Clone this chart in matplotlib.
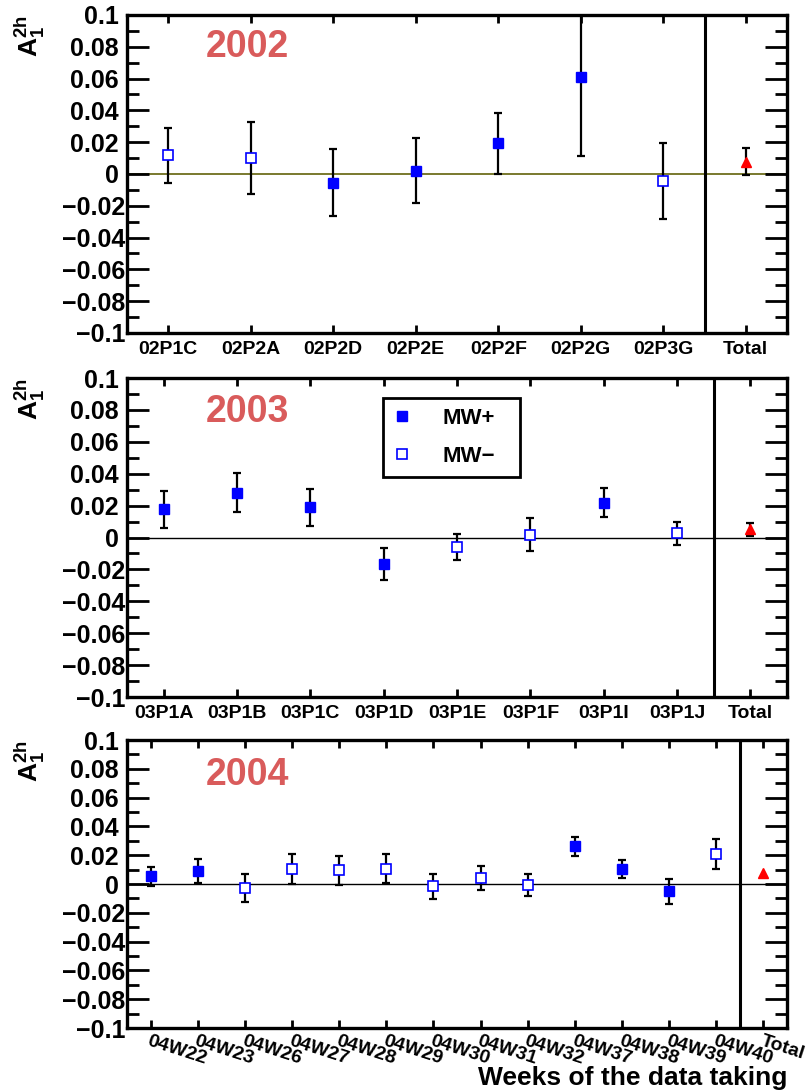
import numpy as np
import matplotlib
matplotlib.use("Agg")
import matplotlib.pyplot as plt
from matplotlib.ticker import FixedLocator, MultipleLocator, FuncFormatter
from matplotlib.transforms import ScaledTranslation

plt.rcParams['font.family'] = ['Liberation Sans', 'DejaVu Sans']
plt.rcParams['font.weight'] = 'bold'
plt.rcParams['mathtext.fontset'] = 'custom'
plt.rcParams['mathtext.rm'] = 'Liberation Sans:bold'
plt.rcParams['mathtext.bf'] = 'Liberation Sans:bold'
plt.rcParams['mathtext.default'] = 'bf'

# 2002 periods
labels02 = ['02P1C', '02P2A', '02P2D', '02P2E', '02P2F', '02P2G', '02P3G']
a02 = [0.0118, 0.0100, -0.0055, 0.0021, 0.0193, 0.0610, -0.0046]
e02 = [0.0172, 0.0227, 0.0212, 0.0204, 0.0192, 0.0500, 0.0240]
mw02 = ['-', '-', '+', '+', '+', '+', '-']
tot02, tot02_err = 0.0076, 0.0085

# 2003 periods
labels03 = ['03P1A', '03P1B', '03P1C', '03P1D', '03P1E', '03P1F', '03P1I', '03P1J']
a03 = [0.0176, 0.0281, 0.0189, -0.0166, -0.0059, 0.0019, 0.0218, 0.0027]
e03 = [0.0116, 0.0122, 0.0116, 0.0099, 0.0083, 0.0101, 0.0092, 0.0073]
mw03 = ['+', '+', '+', '+', '-', '-', '+', '-']
tot03, tot03_err = 0.0052, 0.0040

# 2004 weeks
labels04 = ['04W22', '04W23', '04W26', '04W27', '04W28', '04W29', '04W30',
            '04W31', '04W32', '04W37', '04W38', '04W39', '04W40']
a04 = [0.0053, 0.0088, -0.0025, 0.0104, 0.0095, 0.0106, -0.0016,
       0.0044, -0.0007, 0.0263, 0.0104, -0.0051, 0.0208]
e04 = [0.0065, 0.0083, 0.0097, 0.0104, 0.0103, 0.0100, 0.0088,
       0.0083, 0.0074, 0.0065, 0.0060, 0.0089, 0.0103]
mw04 = ['+', '+', '-', '-', '-', '-', '-', '-', '-', '+', '+', '+', '-']
tot04, tot04_err = 0.0076, 0.0

YEAR_COLOR = '#d95b5b'
BLUE = '#0000ff'


def fmt_y(v, pos):
    s = '%g' % round(v, 3)
    return s.replace('-', '\u2212')


def draw_panel(fig, ax, labels, vals, errs, kinds, tot, tot_err, year, zero_color, year_y):
    n = len(labels)
    x = np.arange(n)
    vals = np.array(vals)
    errs = np.array(errs)
    kinds = np.array(kinds)

    ax.axhline(0, color=zero_color, lw=1.3 if zero_color != 'black' else 1.0, zorder=1)
    ax.axvline(n - 0.5, color='black', lw=2.2, zorder=2)

    ax.errorbar(x, vals, yerr=errs, fmt='none', ecolor='black', elinewidth=1.6,
                capsize=3, capthick=1.6, zorder=3)
    plus = kinds == '+'
    minus = kinds == '-'
    hp, = ax.plot(x[plus], vals[plus], 's', ms=7.5, color=BLUE, mec=BLUE, zorder=4,
                  linestyle='none', label='MW+')
    hm, = ax.plot(x[minus], vals[minus], 's', ms=7.5, mfc='white', mec=BLUE, mew=1.2,
                  zorder=4, linestyle='none', label='MW\u2212')
    if tot_err > 0:
        ax.errorbar([n], [tot], yerr=[tot_err], fmt='none', ecolor='black',
                    elinewidth=1.6, capsize=3, capthick=1.6, zorder=3)
    ax.plot([n], [tot], '^', ms=7.5, color='red', zorder=5)

    ax.set_xlim(-0.5, n + 0.5)
    ax.set_ylim(-0.1, 0.1)
    yt = np.round(np.arange(-0.1, 0.1001, 0.02), 3)
    ax.yaxis.set_major_locator(FixedLocator(yt))
    ax.yaxis.set_minor_locator(MultipleLocator(0.01))
    ax.yaxis.set_major_formatter(FuncFormatter(fmt_y))
    ax.set_xticks(np.arange(n + 1))

    ax.tick_params(axis='y', which='major', direction='in', length=16, width=2,
                   left=True, right=True, labelsize=18, pad=6)
    ax.tick_params(axis='y', which='minor', direction='in', length=8.5, width=2,
                   left=True, right=True)
    ax.tick_params(axis='x', which='major', direction='in', length=6, width=2,
                   top=True, bottom=True, labelsize=14, pad=6)
    for sp in ax.spines.values():
        sp.set_linewidth(2.4)

    # negative labels sit a little closer to the axis, like the original
    shift = ScaledTranslation(5 / 72, 0, fig.dpi_scale_trans)
    for tk, v in zip(ax.yaxis.get_major_ticks(), yt):
        if v < 0:
            tk.label1.set_transform(tk.label1.get_transform() + shift)

    ax.text(0.12, year_y, year, transform=ax.transAxes, color=YEAR_COLOR,
            fontsize=27, fontweight='bold', ha='left', va='center')
    ax.text(-0.147, 1.0, r'$A_1^{2h}$', transform=ax.transAxes, rotation=90,
            fontsize=19, ha='center', va='top')
    return hp, hm


fig = plt.figure(figsize=(8.06, 10.91), dpi=100)
ax1 = fig.add_axes([0.1576, 0.6948, 0.8189, 0.2915])
ax2 = fig.add_axes([0.1576, 0.3611, 0.8189, 0.2924])
ax3 = fig.add_axes([0.1576, 0.0577, 0.8189, 0.2640])

draw_panel(fig, ax1, labels02, a02, e02, mw02, tot02, tot02_err, '2002', '#6e6e1e', 0.90)
ax1.set_xticklabels(labels02 + ['Total'])

hp, hm = draw_panel(fig, ax2, labels03, a03, e03, mw03, tot03, tot03_err, '2003', 'black', 0.893)
ax2.set_xticklabels(labels03 + ['Total'])
leg = ax2.legend(handles=[hp, hm], loc='upper left',
                 bbox_to_anchor=(0.388, 0.677, 0.207, 0.26), mode='expand',
                 borderaxespad=0, fontsize=16, handlelength=0.8, handletextpad=1.4,
                 borderpad=0.45, labelspacing=0.75, fancybox=False, framealpha=1,
                 edgecolor='black', numpoints=1)
leg.get_frame().set_linewidth(2.0)

draw_panel(fig, ax3, labels04, a04, e04, mw04, tot04, tot04_err, '2004', 'black', 0.88)
ax3.set_xticklabels(labels04 + ['Total'], rotation=-18, ha='left', va='top',
                    rotation_mode='anchor', fontsize=14)
ax3.tick_params(axis='x', pad=3)
fig.text(787 / 806, 1 - 1078 / 1091, 'Weeks of the data taking', ha='right', va='center',
         fontsize=19, fontweight='bold')

fig.savefig('out.png', dpi=100)
